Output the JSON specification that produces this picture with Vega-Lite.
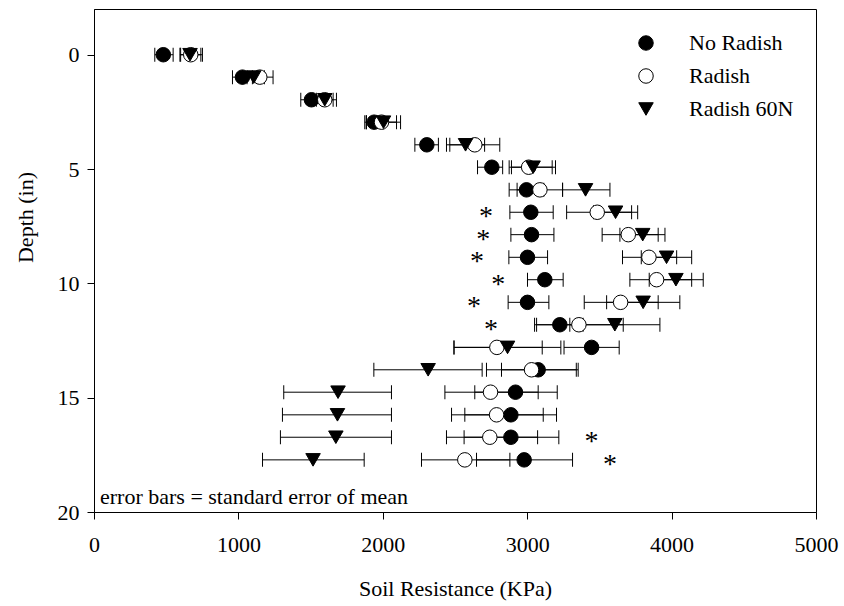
{
  "$schema": "https://vega.github.io/schema/vega-lite/v6.json",
  "width": 722,
  "height": 503,
  "autosize": {"type": "none"},
  "padding": {"left": 94, "top": 9, "right": 28, "bottom": 94},
  "background": "white",
  "config": {
    "font": "Liberation Serif, Times New Roman, serif",
    "view": {"stroke": "black", "strokeWidth": 1},
    "axis": {
      "labelFont": "Liberation Serif, Times New Roman, serif",
      "titleFont": "Liberation Serif, Times New Roman, serif",
      "labelFontSize": 22,
      "titleFontSize": 22,
      "titleFontWeight": "normal",
      "labelColor": "black",
      "titleColor": "black",
      "domainColor": "black",
      "tickColor": "black",
      "tickSize": 7,
      "tickWidth": 1,
      "grid": false
    },
    "legend": {
      "labelFont": "Liberation Serif, Times New Roman, serif",
      "labelFontSize": 22,
      "labelColor": "black"
    },
    "text": {"font": "Liberation Serif, Times New Roman, serif"}
  },
  "datasets": {
    "pts": [
      {"series": "No Radish", "depth": 0, "x": 480, "lo": 421, "hi": 548},
      {"series": "No Radish", "depth": 0.98, "x": 1028, "lo": 959, "hi": 1097},
      {"series": "No Radish", "depth": 1.97, "x": 1506, "lo": 1432, "hi": 1580},
      {"series": "No Radish", "depth": 2.95, "x": 1940, "lo": 1875, "hi": 2005},
      {"series": "No Radish", "depth": 3.94, "x": 2305, "lo": 2222, "hi": 2385},
      {"series": "No Radish", "depth": 4.92, "x": 2755, "lo": 2656, "hi": 2830},
      {"series": "No Radish", "depth": 5.91, "x": 2995, "lo": 2875, "hi": 3115},
      {"series": "No Radish", "depth": 6.89, "x": 3025, "lo": 2880, "hi": 3180},
      {"series": "No Radish", "depth": 7.87, "x": 3030, "lo": 2887, "hi": 3185},
      {"series": "No Radish", "depth": 8.86, "x": 3002, "lo": 2873, "hi": 3141},
      {"series": "No Radish", "depth": 9.84, "x": 3122, "lo": 3002, "hi": 3249},
      {"series": "No Radish", "depth": 10.83, "x": 3002, "lo": 2868, "hi": 3150},
      {"series": "No Radish", "depth": 11.81, "x": 3226, "lo": 3065, "hi": 3387},
      {"series": "No Radish", "depth": 12.8, "x": 3446, "lo": 3255, "hi": 3637},
      {"series": "No Radish", "depth": 13.78, "x": 3076, "lo": 2822, "hi": 3340},
      {"series": "No Radish", "depth": 14.76, "x": 2919, "lo": 2637, "hi": 3208},
      {"series": "No Radish", "depth": 15.75, "x": 2887, "lo": 2568, "hi": 3203},
      {"series": "No Radish", "depth": 16.73, "x": 2887, "lo": 2563, "hi": 3219},
      {"series": "No Radish", "depth": 17.72, "x": 2979, "lo": 2649, "hi": 3314},
      {"series": "Radish", "depth": 0, "x": 670, "lo": 600, "hi": 751},
      {"series": "Radish", "depth": 0.98, "x": 1148, "lo": 1060, "hi": 1240},
      {"series": "Radish", "depth": 1.97, "x": 1598, "lo": 1518, "hi": 1679},
      {"series": "Radish", "depth": 2.95, "x": 1991, "lo": 1885, "hi": 2095},
      {"series": "Radish", "depth": 3.94, "x": 2637, "lo": 2464, "hi": 2810},
      {"series": "Radish", "depth": 4.92, "x": 3010, "lo": 2875, "hi": 3173},
      {"series": "Radish", "depth": 5.91, "x": 3088, "lo": 2930, "hi": 3245},
      {"series": "Radish", "depth": 6.89, "x": 3485, "lo": 3273, "hi": 3723},
      {"series": "Radish", "depth": 7.87, "x": 3700, "lo": 3519, "hi": 3907},
      {"series": "Radish", "depth": 8.86, "x": 3843, "lo": 3660, "hi": 4035},
      {"series": "Radish", "depth": 9.84, "x": 3896, "lo": 3711, "hi": 4139},
      {"series": "Radish", "depth": 10.83, "x": 3647, "lo": 3395, "hi": 3907},
      {"series": "Radish", "depth": 11.81, "x": 3358, "lo": 3051, "hi": 3665},
      {"series": "Radish", "depth": 12.8, "x": 2790, "lo": 2492, "hi": 3104},
      {"series": "Radish", "depth": 13.78, "x": 3030, "lo": 2718, "hi": 3353},
      {"series": "Radish", "depth": 14.76, "x": 2746, "lo": 2430, "hi": 3076},
      {"series": "Radish", "depth": 15.75, "x": 2788, "lo": 2476, "hi": 3111},
      {"series": "Radish", "depth": 16.73, "x": 2741, "lo": 2441, "hi": 3072},
      {"series": "Radish", "depth": 17.72, "x": 2568, "lo": 2268, "hi": 2880},
      {"series": "Radish 60N", "depth": 0, "x": 665, "lo": 595, "hi": 740},
      {"series": "Radish 60N", "depth": 0.98, "x": 1106, "lo": 1030, "hi": 1180},
      {"series": "Radish 60N", "depth": 1.97, "x": 1598, "lo": 1540, "hi": 1656},
      {"series": "Radish 60N", "depth": 2.95, "x": 2005, "lo": 1887, "hi": 2123},
      {"series": "Radish 60N", "depth": 3.94, "x": 2573, "lo": 2441, "hi": 2705},
      {"series": "Radish 60N", "depth": 4.92, "x": 3041, "lo": 2891, "hi": 3196},
      {"series": "Radish 60N", "depth": 5.91, "x": 3404, "lo": 3245, "hi": 3573},
      {"series": "Radish 60N", "depth": 6.89, "x": 3612, "lo": 3459, "hi": 3765},
      {"series": "Radish 60N", "depth": 7.87, "x": 3800, "lo": 3642, "hi": 3954},
      {"series": "Radish 60N", "depth": 8.86, "x": 3965, "lo": 3790, "hi": 4139},
      {"series": "Radish 60N", "depth": 9.84, "x": 4030, "lo": 3845, "hi": 4219},
      {"series": "Radish 60N", "depth": 10.83, "x": 3803, "lo": 3550, "hi": 4057},
      {"series": "Radish 60N", "depth": 11.81, "x": 3607, "lo": 3295, "hi": 3919},
      {"series": "Radish 60N", "depth": 12.8, "x": 2864, "lo": 2494, "hi": 3233},
      {"series": "Radish 60N", "depth": 13.78, "x": 2314, "lo": 1938, "hi": 2688},
      {"series": "Radish 60N", "depth": 14.76, "x": 1690, "lo": 1314, "hi": 2060},
      {"series": "Radish 60N", "depth": 15.75, "x": 1686, "lo": 1305, "hi": 2060},
      {"series": "Radish 60N", "depth": 16.73, "x": 1675, "lo": 1291, "hi": 2060},
      {"series": "Radish 60N", "depth": 17.72, "x": 1517, "lo": 1167, "hi": 1871}
    ],
    "stars": [
      {"depth": 6.89, "x": 2715, "label": "*"},
      {"depth": 7.87, "x": 2695, "label": "*"},
      {"depth": 8.86, "x": 2653, "label": "*"},
      {"depth": 9.84, "x": 2799, "label": "*"},
      {"depth": 10.83, "x": 2632, "label": "*"},
      {"depth": 11.81, "x": 2749, "label": "*"},
      {"depth": 16.73, "x": 3446, "label": "*"},
      {"depth": 17.72, "x": 3573, "label": "*"}
    ],
    "note": [
      {"depth": 20, "x": 0, "label": "error bars = standard error of mean"}
    ]
  },
  "encoding": {
    "y": {
      "field": "depth",
      "type": "quantitative",
      "scale": {"domain": [-2, 20], "reverse": true, "nice": false, "zero": false},
      "axis": {
        "title": "Depth (in)",
        "values": [0, 5, 10, 15, 20],
        "labelPadding": 8,
        "titleX": -69,
        "titleY": 208,
        "titleBaseline": "middle",
        "titleAlign": "center",
        "titleAngle": -90,
        "titleFontWeight": "normal"
      }
    }
  },
  "layer": [
    {
      "data": {"name": "pts"},
      "mark": {"type": "rule", "color": "black", "strokeWidth": 1},
      "encoding": {
        "x": {
          "field": "lo",
          "type": "quantitative",
          "scale": {"domain": [0, 5000], "nice": false},
          "axis": {
            "title": "Soil Resistance (KPa)",
            "values": [0, 1000, 2000, 3000, 4000, 5000],
            "format": "d",
            "labelPadding": 15,
            "titlePadding": 23,
            "labelFlush": false,
            "titleFontWeight": "normal"
          }
        },
        "x2": {"field": "hi"}
      }
    },
    {
      "data": {"name": "pts"},
      "mark": {"type": "tick", "orient": "vertical", "color": "black", "size": 14, "thickness": 1, "opacity": 1},
      "encoding": {"x": {"field": "lo", "type": "quantitative"}}
    },
    {
      "data": {"name": "pts"},
      "mark": {"type": "tick", "orient": "vertical", "color": "black", "size": 14, "thickness": 1, "opacity": 1},
      "encoding": {"x": {"field": "hi", "type": "quantitative"}}
    },
    {
      "data": {"name": "pts"},
      "mark": {"type": "point", "filled": true, "stroke": "black", "strokeWidth": 1, "opacity": 1},
      "encoding": {
        "x": {"field": "x", "type": "quantitative"},
        "stroke": {"value": "black"},
        "shape": {
          "field": "series",
          "type": "nominal",
          "scale": {"domain": ["No Radish", "Radish", "Radish 60N"], "range": ["circle", "circle", "triangle-down"]},
          "legend": {
            "title": null,
            "orient": "none",
            "legendX": 541,
            "legendY": 23,
            "padding": 0,
            "labelOffset": 32,
            "rowPadding": 11,
            "symbolStrokeColor": "black",
            "symbolStrokeWidth": 1,
            "symbolOpacity": 1,
            "encode": {"symbols": {"update": {"stroke": {"value": "black"}, "strokeWidth": {"value": 1}, "opacity": {"value": 1}}}}
          }
        },
        "fill": {
          "field": "series",
          "type": "nominal",
          "scale": {"domain": ["No Radish", "Radish", "Radish 60N"], "range": ["black", "white", "black"]},
          "legend": {
            "title": null,
            "orient": "none",
            "legendX": 541,
            "legendY": 23,
            "padding": 0,
            "labelOffset": 32,
            "rowPadding": 11,
            "symbolStrokeColor": "black",
            "symbolStrokeWidth": 1,
            "symbolOpacity": 1,
            "encode": {"symbols": {"update": {"stroke": {"value": "black"}, "strokeWidth": {"value": 1}, "opacity": {"value": 1}}}}
          }
        },
        "size": {
          "field": "series",
          "type": "nominal",
          "scale": {"domain": ["No Radish", "Radish", "Radish 60N"], "range": [210, 210, 350]},
          "legend": {
            "title": null,
            "orient": "none",
            "legendX": 541,
            "legendY": 23,
            "padding": 0,
            "labelOffset": 32,
            "rowPadding": 11,
            "symbolStrokeColor": "black",
            "symbolStrokeWidth": 1,
            "symbolOpacity": 1,
            "encode": {"symbols": {"update": {"stroke": {"value": "black"}, "strokeWidth": {"value": 1}, "opacity": {"value": 1}}}}
          }
        }
      }
    },
    {
      "data": {"name": "stars"},
      "mark": {"type": "text", "font": "Liberation Serif, Times New Roman, serif", "fontSize": 28, "color": "black", "align": "center", "baseline": "alphabetic", "dy": 13},
      "encoding": {
        "x": {"field": "x", "type": "quantitative"},
        "text": {"field": "label"}
      }
    },
    {
      "data": {"name": "note"},
      "mark": {"type": "text", "font": "Liberation Serif, Times New Roman, serif", "fontSize": 22, "color": "black", "align": "left", "baseline": "alphabetic", "dx": 6, "dy": -8},
      "encoding": {
        "x": {"field": "x", "type": "quantitative"},
        "text": {"field": "label"}
      }
    }
  ]
}
